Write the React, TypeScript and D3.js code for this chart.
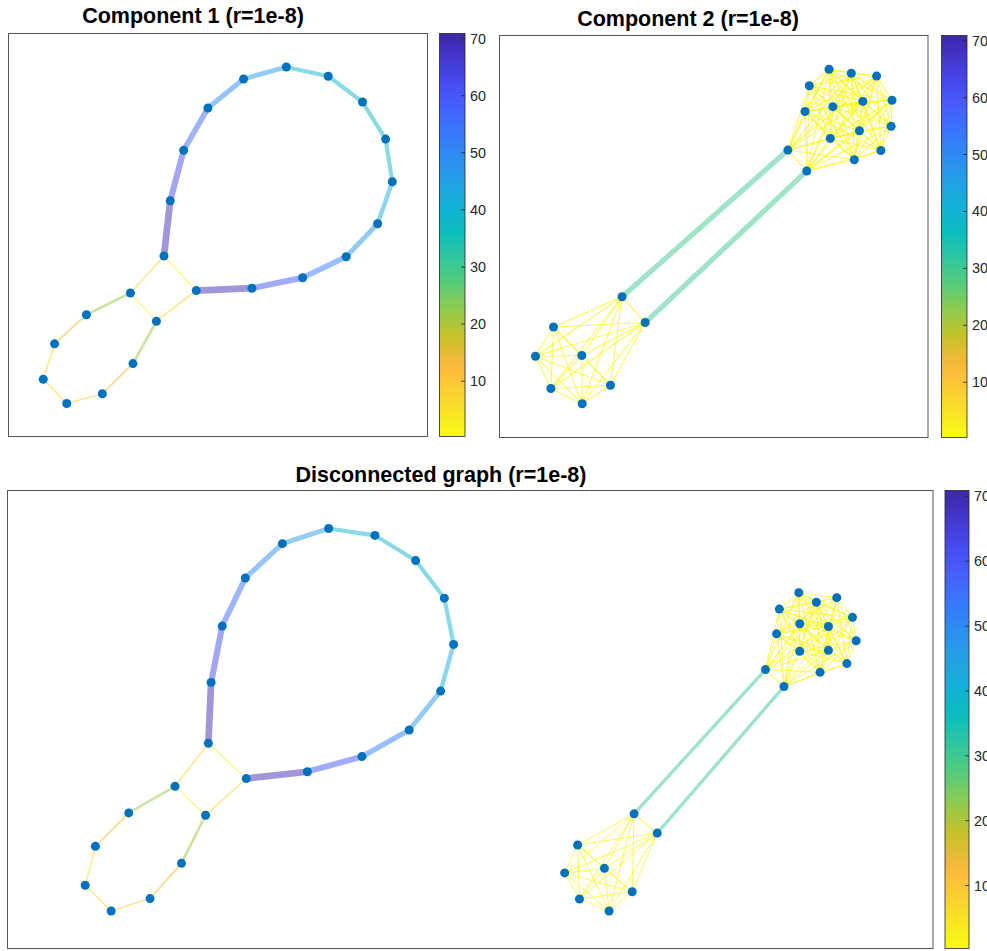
import * as d3 from "d3";
import React from "react";

// colour limits shared by all three colorbars
const C_MIN = 0.3;
const C_MAX = 70.9;
const cbTicks = [10, 20, 30, 40, 50, 60, 70];

// parula anchor rows (position 0 = dark blue end); the colormap is flipped for the edges
const parulaPos = [0, 7, 11, 15, 19, 23, 27, 31, 35, 39, 43, 47, 51, 53, 57, 63].map((r) => r / 63);
const parulaRGB = [
  [0.2422, 0.1504, 0.6603],
  [0.2803, 0.2782, 0.9221],
  [0.276, 0.3667, 0.9829],
  [0.2206, 0.4603, 0.9973],
  [0.1764, 0.5499, 0.952],
  [0.138, 0.6276, 0.8973],
  [0.0689, 0.6948, 0.8394],
  [0.0433, 0.7411, 0.7394],
  [0.1938, 0.7758, 0.6251],
  [0.3406, 0.8008, 0.4789],
  [0.5616, 0.7942, 0.3045],
  [0.7738, 0.7598, 0.1646],
  [0.9393, 0.7288, 0.21],
  [0.9956, 0.7434, 0.2371],
  [0.9786, 0.8386, 0.1766],
  [0.9769, 0.9839, 0.0805],
];

// ---- Component 1 (layout used in panel 1) ----
const comp1X = [3.71, 3.86, 4.18, 4.76, 5.61, 6.63, 7.63, 8.45, 9.0, 9.16, 8.81, 8.06, 7.02, 5.81, 4.48, 3.53, 2.91, 1.86, 1.1, 0.83, 1.39, 2.24, 2.97];
const comp1Y = [4.48, 5.85, 7.1, 8.15, 8.87, 9.17, 8.94, 8.3, 7.38, 6.32, 5.28, 4.46, 3.94, 3.68, 3.62, 2.86, 3.56, 3.02, 2.3, 1.42, 0.82, 1.06, 1.81];
const comp1Edges: [number, number, number][] = [
  [0, 1, 69], [1, 2, 62], [2, 3, 56], [3, 4, 50], [4, 5, 46], [5, 6, 39], [6, 7, 38],
  [7, 8, 38], [8, 9, 39], [9, 10, 42], [10, 11, 47], [11, 12, 53], [12, 13, 60], [13, 14, 69],
  [14, 0, 2], [0, 16, 8], [16, 15, 2], [15, 14, 8], [16, 17, 22], [17, 18, 13], [18, 19, 8],
  [19, 20, 8], [20, 21, 9], [21, 22, 13], [22, 15, 22],
];

// ---- Component 2 (layout used in panel 2) ----
const comp2X = [7.69, 8.21, 8.8, 7.23, 9.16, 8.48, 7.78, 7.13, 9.14, 8.4, 7.72, 8.9, 8.28, 6.73, 7.17, 2.86, 3.4, 1.26, 0.84, 1.92, 1.2, 2.59, 1.93];
const comp2Y = [9.16, 9.06, 8.99, 8.75, 8.39, 8.36, 8.23, 8.11, 7.74, 7.63, 7.44, 7.14, 6.91, 7.15, 6.63, 3.5, 2.86, 2.75, 2.02, 2.04, 1.22, 1.3, 0.84];
const comp2Bridges: [number, number, number][] = [
  [13, 15, 30], [14, 16, 30], [13, 14, 2], [15, 16, 2],
];
const CLUSTER_WEIGHT = 1;
// neighbours (higher index only) inside the two dense clusters
const comp2Cluster: [number, number[]][] = [
  [0, [1, 2, 3, 4, 5, 6, 7, 8, 9, 10, 11, 12, 13, 14]],
  [1, [2, 3, 4, 5, 6, 7, 8, 9, 10, 11, 12, 13, 14]],
  [2, [3, 4, 5, 6, 7, 8, 9, 10, 11, 12, 13]],
  [3, [4, 5, 6, 7, 8, 9, 10, 12, 13, 14]],
  [4, [5, 6, 7, 8, 9, 10, 11, 12, 14]],
  [5, [6, 7, 8, 9, 10, 11, 12, 13, 14]],
  [6, [7, 8, 9, 10, 11, 12, 13, 14]],
  [7, [9, 10, 11, 12, 13, 14]],
  [8, [9, 10, 11, 12, 14]],
  [9, [10, 11, 12, 13, 14]],
  [10, [11, 12, 13, 14]],
  [11, [12, 14]],
  [12, [13, 14]],
  [15, [17, 18, 19, 20, 21, 22]],
  [16, [17, 18, 19, 20, 21, 22]],
  [17, [18, 19, 20, 21, 22]],
  [18, [19, 20, 21, 22]],
  [19, [20, 21, 22]],
  [20, [21, 22]],
  [21, [22]],
];

// ---- Disconnected graph (layout used in panel 3) ----
const fullC1X = [2.17, 2.2, 2.32, 2.57, 2.97, 3.47, 3.97, 4.41, 4.72, 4.82, 4.68, 4.34, 3.83, 3.24, 2.58, 2.14, 1.81, 1.31, 0.95, 0.84, 1.12, 1.54, 1.88];
const fullC1Y = [4.48, 5.81, 7.04, 8.09, 8.84, 9.17, 9.02, 8.47, 7.65, 6.64, 5.62, 4.77, 4.19, 3.86, 3.71, 2.91, 3.54, 2.96, 2.23, 1.38, 0.82, 1.09, 1.86];
const fullC2X = [8.55, 8.74, 8.96, 8.34, 9.13, 8.87, 8.56, 8.31, 9.17, 8.87, 8.56, 9.07, 8.78, 8.19, 8.39, 6.77, 7.02, 6.16, 6.02, 6.45, 6.18, 6.75, 6.5];
const fullC2Y = [7.77, 7.56, 7.66, 7.41, 7.23, 7.03, 7.09, 6.87, 6.72, 6.51, 6.49, 6.22, 6.03, 6.09, 5.72, 2.94, 2.52, 2.26, 1.65, 1.75, 1.08, 1.24, 0.82];

const comp2Edges: [number, number, number][] = [
  ...comp2Cluster.flatMap(([s, ts]) => ts.map((t) => [s, t, CLUSTER_WEIGHT] as [number, number, number])),
  ...comp2Bridges,
];
const offset = comp1X.length;
const fullEdges: [number, number, number][] = [
  ...comp1Edges,
  ...comp2Edges.map(([s, t, w]) => [s + offset, t + offset, w] as [number, number, number]),
];

const parula = d3
  .scaleLinear<string>()
  .domain(parulaPos)
  .range(parulaRGB.map(([r, g, b]) => d3.rgb(r * 255, g * 255, b * 255).toString()))
  .interpolate(d3.interpolateRgb)
  .clamp(true);
const edgeColor = (w: number) => parula(1 - (w - C_MIN) / (C_MAX - C_MIN));
// thin, pale edges read a bit stronger in the original render
const edgeAlpha = d3.scaleLinear().domain([1, 10]).range([0.72, 0.5]).clamp(true);

const FONT = "'Liberation Sans', Arial, Helvetica, sans-serif";
const NODE_COLOR = "#0072BD";

type Box = { x0: number; x1: number; y0: number; y1: number };

const Colorbar: React.FC<{ id: string; box: Box }> = ({ id, box }) => {
  const y = d3.scaleLinear().domain([C_MIN, C_MAX]).range([box.y1, box.y0]);
  return (
    <g>
      <defs>
        <linearGradient id={id} x1="0" y1="0" x2="0" y2="1">
          {parulaPos.map((p, i) => (
            <stop key={i} offset={p} stopColor={parula(p)} />
          ))}
        </linearGradient>
      </defs>
      <rect x={box.x0} y={box.y0} width={box.x1 - box.x0} height={box.y1 - box.y0} fill={`url(#${id})`} stroke="#262626" strokeWidth={0.8} />
      {cbTicks.map((t) => (
        <g key={t}>
          <line x1={box.x1 - 4} x2={box.x1} y1={y(t)} y2={y(t)} stroke="#262626" strokeWidth={0.8} />
          <text x={box.x1 + 5} y={y(t)} dy="0.35em" fontSize={14.4} fill="#262626" fontFamily={FONT}>
            {t}
          </text>
        </g>
      ))}
    </g>
  );
};

interface PanelProps {
  id: string;
  title: string;
  titleX: number;
  titleY: number;
  box: Box;
  cb: Box;
  xs: number[];
  ys: number[];
  edges: [number, number, number][];
  lwMax: number;
}

const Panel: React.FC<PanelProps> = ({ id, title, titleX, titleY, box, cb, xs, ys, edges, lwMax }) => {
  const x = d3.scaleLinear().domain([0, 10]).range([box.x0, box.x1]);
  const y = d3.scaleLinear().domain([0, 10]).range([box.y1, box.y0]);
  const maxW = d3.max(edges, (e) => e[2]) ?? 1;
  const lw = d3.scaleLinear().domain([0, maxW]).range([0.9, 0.9 + lwMax]);
  return (
    <g>
      <rect x={box.x0} y={box.y0} width={box.x1 - box.x0} height={box.y1 - box.y0} fill="white" stroke="#555" strokeWidth={1} />
      <g>
        {edges.map(([s, t, w], i) => (
          <line
            key={i}
            x1={x(xs[s])}
            y1={y(ys[s])}
            x2={x(xs[t])}
            y2={y(ys[t])}
            stroke={edgeColor(w)}
            strokeOpacity={edgeAlpha(w)}
            strokeWidth={lw(w)}
          />
        ))}
      </g>
      <g>
        {xs.map((v, i) => (
          <circle key={i} cx={x(v)} cy={y(ys[i])} r={4.5} fill={NODE_COLOR} />
        ))}
      </g>
      <text x={titleX} y={titleY} textAnchor="middle" fontSize={21.5} fontWeight="bold" fontFamily={FONT} fill="#000">
        {title}
      </text>
      <Colorbar id={id} box={cb} />
    </g>
  );
};

export default function App() {
  return (
    <div style={{ position: "absolute", left: 0, top: 0 }}>
      <svg width={987} height={951} style={{ display: "block", background: "white" }}>
        <Panel
          id="cb1"
          title="Component 1 (r=1e-8)"
          titleX={193}
          titleY={23}
          box={{ x0: 8.5, x1: 427.5, y0: 33.5, y1: 436.5 }}
          cb={{ x0: 439.5, x1: 465, y0: 33.5, y1: 436.5 }}
          xs={comp1X}
          ys={comp1Y}
          edges={comp1Edges}
          lwMax={5.8}
        />
        <Panel
          id="cb2"
          title="Component 2 (r=1e-8)"
          titleX={688}
          titleY={26}
          box={{ x0: 499.5, x1: 928, y0: 35.5, y1: 437.5 }}
          cb={{ x0: 941.5, x1: 967, y0: 35.5, y1: 437.5 }}
          xs={comp2X}
          ys={comp2Y}
          edges={comp2Edges}
          lwMax={4.3}
        />
        <Panel
          id="cb3"
          title="Disconnected graph (r=1e-8)"
          titleX={441}
          titleY={481.5}
          box={{ x0: 7.5, x1: 933, y0: 490.5, y1: 948.5 }}
          cb={{ x0: 945, x1: 969, y0: 490.5, y1: 948.5 }}
          xs={[...fullC1X, ...fullC2X]}
          ys={[...fullC1Y, ...fullC2Y]}
          edges={fullEdges}
          lwMax={5.8}
        />
      </svg>
    </div>
  );
}
